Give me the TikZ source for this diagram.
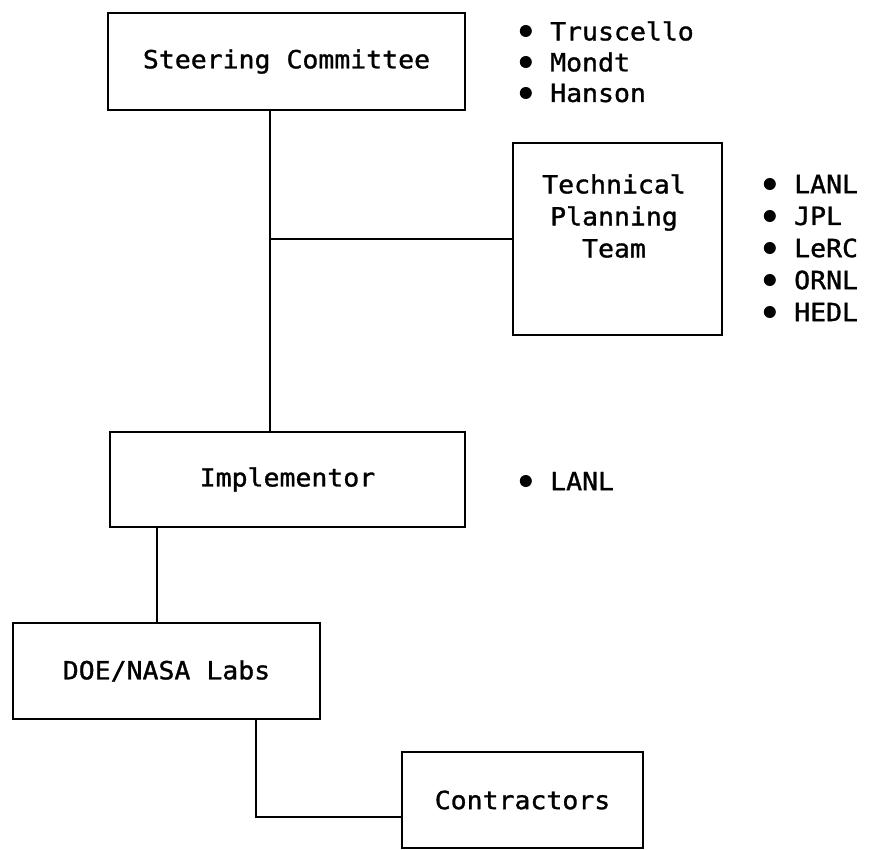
\documentclass[tikz,border=0pt]{standalone}
\usepackage{fontspec}
\usetikzlibrary{positioning}
\newfontfamily\typer[FakeStretch=1.06,FakeBold=1.2]{DejaVu Sans Mono}
\newcommand{\typesize}{\typer\fontsize{25}{32}\selectfont}
\tikzset{
  orgbox/.style={draw, line width=2.2pt, inner sep=0pt, align=center, font=\typesize},
  boxtext/.style={inner sep=0pt, align=center, font=\typesize},
  member/.style={anchor=west, inner sep=0pt, font=\typesize},
  bulletdot/.style={circle, fill=black, inner sep=0pt, minimum size=12pt},
  link/.style={line width=2.2pt}
}
\begin{document}
\begin{tikzpicture}[x=1pt,y=-1pt]
\useasboundingbox[fill=white] (0,0) rectangle (873,849);

% boxes
\node[orgbox, minimum width=357pt, minimum height=97pt] (steer) at (286.5,61.5) {Steering Committee};
\node[orgbox, minimum width=209pt, minimum height=192pt] (tpt) at (617.5,239) {};
\node[boxtext] (tptname) at (614,216) {Technical\\Planning\\Team};
\node[orgbox, minimum width=355pt, minimum height=95pt] (impl) at (287.5,479.5) {Implementor};
\node[orgbox, minimum width=307pt, minimum height=96pt] (doe) at (166.5,671) {DOE/NASA Labs};
\node[orgbox, minimum width=241pt, minimum height=96pt] (contr) at (522.5,800) {Contractors};

% member lists
\foreach \who [count=\i] in {Truscello,Mondt,Hanson} {
  \node[member] (sc\i) at (550,{31*\i}) {\who};
  \node[bulletdot, left=18pt of sc\i] (scdot\i) {};
}
\foreach \who [count=\i] in {LANL,JPL,LeRC,ORNL,HEDL} {
  \node[member] (tp\i) at (794,{152+32*\i}) {\who};
  \node[bulletdot, left=18pt of tp\i] (tpdot\i) {};
}
\node[member] (im1) at (550,481) {LANL};
\node[bulletdot, left=18pt of im1] (imdot1) {};

% connectors
\coordinate (trunk) at (270,0);
\coordinate (tap) at (270,239);
\coordinate (labs) at (157,0);
\coordinate (drop) at (256,817);
\draw[link] (steer.south -| trunk) -- (impl.north -| trunk);
\draw[link] (tap) -- (tap -| tpt.west);
\draw[link] (impl.south -| labs) -- (doe.north -| labs);
\draw[link] (doe.south -| drop) -- (drop) -- (drop -| contr.west);
\end{tikzpicture}
\end{document}
